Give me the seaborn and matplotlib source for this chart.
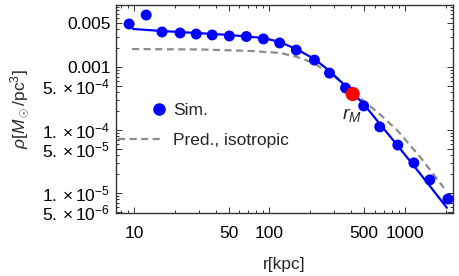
import numpy as np
import pandas as pd
import matplotlib
matplotlib.use("Agg")
import matplotlib.pyplot as plt
import seaborn as sns
from matplotlib.lines import Line2D
from matplotlib.legend_handler import HandlerLine2DCompound
from matplotlib.ticker import FixedLocator, FixedFormatter, NullFormatter

# ---- data ----
sim_r = [9.2, 12.3, 16.1, 21.9, 28.8, 37.8, 50.6, 67.6, 90.3, 119, 158, 215, 278,
         365, 497, 653, 888, 1167, 1531, 2083]
sim_rho = [4.82e-3, 6.7e-3, 3.6e-3, 3.47e-3, 3.34e-3, 3.23e-3, 3.11e-3, 3.05e-3,
           2.79e-3, 2.41e-3, 1.86e-3, 1.29e-3, 8.0e-4, 4.65e-4, 2.41e-4, 1.12e-4,
           5.76e-5, 3.0e-5, 1.61e-5, 8.0e-6]

fit_r = [9.84, 16.1, 28.8, 50.6, 90.3, 119, 158, 215, 278, 365, 497, 653, 888,
         1167, 1531, 2046]
fit_rho = [4.02e-3, 3.73e-3, 3.47e-3, 3.23e-3, 2.89e-3, 2.50e-3, 1.93e-3, 1.34e-3,
           8.65e-4, 5.0e-4, 2.59e-4, 1.25e-4, 5.58e-5, 2.69e-5, 1.29e-5, 5.8e-6]

pred_r = [9.67, 30.8, 72.3, 121, 161, 212, 283, 378, 497, 664, 888, 1315, 1945]
pred_rho = [1.93e-3, 1.90e-3, 1.80e-3, 1.67e-3, 1.44e-3, 1.16e-3, 7.75e-4, 4.82e-4,
            2.89e-4, 1.73e-4, 9.66e-5, 3.6e-5, 1.2e-5]

rM_r = [412]
rM_rho = [3.73e-4]

xticks = [10, 50, 100, 500, 1000]
xticklabels = ["10", "50", "100", "500", "1000"]
yticks = [5e-3, 1e-3, 5e-4, 1e-4, 5e-5, 1e-5, 5e-6]
yticklabels = ["0.005", "0.001", r"$5.\times10^{-4}$", r"$1.\times10^{-4}$",
               r"$5.\times10^{-5}$", r"$1.\times10^{-5}$", r"$5.\times10^{-6}$"]

# ---- style ----
sns.set_style("ticks")
plt.rcParams["font.family"] = ["Liberation Sans", "DejaVu Sans"]
plt.rcParams["mathtext.fontset"] = "custom"
plt.rcParams["mathtext.rm"] = "Liberation Sans"
plt.rcParams["mathtext.it"] = "Liberation Sans:italic"
plt.rcParams["mathtext.bf"] = "Liberation Sans:bold"

FS = 12.5
fig = plt.figure(figsize=(4.59, 2.76), dpi=100)
ax = fig.add_axes([116 / 459, 1 - 213 / 276, 337 / 459, 208 / 276])

df_fit = pd.DataFrame({"r": fit_r, "rho": fit_rho})
df_pred = pd.DataFrame({"r": pred_r, "rho": pred_rho})
df_sim = pd.DataFrame({"r": sim_r, "rho": sim_rho})
df_rm = pd.DataFrame({"r": rM_r, "rho": rM_rho})

sns.lineplot(data=df_pred, x="r", y="rho", ax=ax, color="#8c8c8c", lw=1.6,
             dashes=False, linestyle=(0, (3.2, 2.0)), zorder=2)
sns.lineplot(data=df_fit, x="r", y="rho", ax=ax, color="#0000ff", lw=1.6, zorder=3)
sns.scatterplot(data=df_sim, x="r", y="rho", ax=ax, color="#0000ff", s=62,
                edgecolor="none", zorder=4)
sns.scatterplot(data=df_rm, x="r", y="rho", ax=ax, color="#ff0000", s=105,
                edgecolor="none", zorder=5)

ax.set_xscale("log")
ax.set_yscale("log")
ax.set_xlim(7.36, 2270)
ax.set_ylim(4.8e-6, 9.66e-3)

ax.text(rM_r[0] * 0.98, rM_rho[0] * 0.64, r"$r_M$", fontsize=FS + 1.5,
        ha="center", va="top")

ax.xaxis.set_major_locator(FixedLocator(xticks))
ax.xaxis.set_major_formatter(FixedFormatter(xticklabels))
ax.xaxis.set_minor_formatter(NullFormatter())
ax.yaxis.set_major_locator(FixedLocator(yticks))
ax.yaxis.set_major_formatter(FixedFormatter(yticklabels))
ax.yaxis.set_minor_formatter(NullFormatter())

ax.tick_params(which="both", direction="in", top=True, right=True, colors="#333333",
               labelcolor="black", labelsize=FS, width=0.7)
ax.tick_params(which="major", length=4)
ax.tick_params(axis="x", which="major", pad=9)
ax.tick_params(axis="y", which="major", pad=4)
ax.tick_params(which="minor", length=2)
for sp in ax.spines.values():
    sp.set_color("#333333")
    sp.set_linewidth(1.0)

ax.set_xlabel("r[kpc]", fontsize=FS, labelpad=12)
ax.set_ylabel(r"$\rho[M_\odot/\mathrm{pc}^3]$", fontsize=FS, labelpad=8)


class RightDot(HandlerLine2DCompound):
    def get_xdata(self, legend, xdescent, ydescent, width, height, fontsize):
        return [-xdescent, -xdescent + width], [-xdescent + 0.91 * width]


h_sim = Line2D([], [], color="#0000ff", marker="o", linestyle="none", markersize=8)
h_pred = Line2D([], [], color="#8c8c8c", lw=1.6, linestyle=(0, (3.2, 2.0)))
ax.legend([h_sim, h_pred], ["Sim.", "Pred., isotropic"], loc="center left",
          bbox_to_anchor=(0.005, 0.42), frameon=False, fontsize=FS,
          handlelength=2.6, handletextpad=0.57, labelspacing=0.85,
          borderpad=0, borderaxespad=0,
          handler_map={h_sim: RightDot()})

fig.savefig("out.png", dpi=100)
